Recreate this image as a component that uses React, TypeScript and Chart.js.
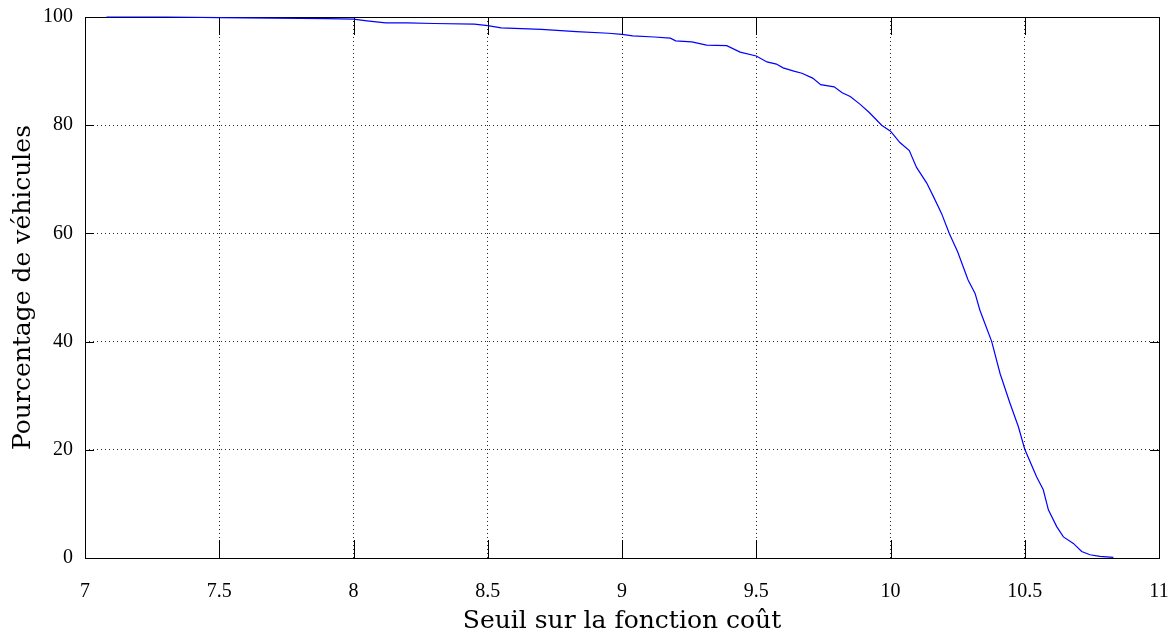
import React, { useEffect, useRef } from "react";
import { Chart, registerables } from "chart.js";

Chart.register(...registerables);

const thresholds: number[] = [
  7.08, 7.3, 7.5, 7.7, 7.9, 8.0, 8.05, 8.12, 8.2, 8.3, 8.45, 8.5, 8.55, 8.6, 8.7, 8.83, 8.95, 9.0,
  9.04, 9.12, 9.18, 9.2, 9.26, 9.315, 9.39, 9.44, 9.5, 9.54, 9.575, 9.6, 9.64, 9.67, 9.71, 9.74,
  9.79, 9.82, 9.85, 9.886, 9.92, 9.967, 10.0, 10.035, 10.07, 10.097, 10.135, 10.16, 10.19, 10.219,
  10.25, 10.289, 10.315, 10.333, 10.377, 10.408, 10.445, 10.476, 10.5, 10.544, 10.569, 10.588,
  10.619, 10.644, 10.681, 10.712, 10.743, 10.78, 10.83,
];

const percentages: number[] = [
  100, 100, 99.9, 99.8, 99.7, 99.6, 99.3, 98.9, 98.9, 98.8, 98.7, 98.4, 98.0, 97.9, 97.7, 97.3, 97.0,
  96.8, 96.5, 96.3, 96.1, 95.6, 95.4, 94.8, 94.7, 93.5, 92.8, 91.7, 91.3, 90.6, 90.0, 89.6, 88.7,
  87.5, 87.1, 86.0, 85.3, 83.9, 82.4, 80.0, 78.9, 76.8, 75.3, 72.2, 69.3, 66.8, 63.7, 60.0, 56.6,
  51.4, 48.9, 45.8, 40.0, 34.1, 28.6, 24.3, 20.1, 15.0, 12.6, 8.9, 5.8, 3.9, 2.7, 1.2, 0.6, 0.3, 0.1,
];

const xTicks: number[] = [7, 7.5, 8, 8.5, 9, 9.5, 10, 10.5, 11];
const yTicks: number[] = [0, 20, 40, 60, 80, 100];

const xTitle = "Seuil sur la fonction coût";
const yTitle = "Pourcentage de véhicules";

const innerTicks = {
  id: "innerTicks",
  beforeDatasetsDraw(chart: any) {
    const { ctx, chartArea } = chart;
    const xs = chart.scales.x;
    const ys = chart.scales.y;
    ctx.save();
    ctx.strokeStyle = "#000";
    ctx.lineWidth = 1;
    ctx.beginPath();
    xTicks.forEach((v) => {
      const px = Math.round(xs.getPixelForValue(v)) + 0.5;
      ctx.moveTo(px, chartArea.bottom);
      ctx.lineTo(px, chartArea.bottom - 18);
      ctx.moveTo(px, chartArea.top);
      ctx.lineTo(px, chartArea.top + 18);
    });
    yTicks.forEach((v) => {
      const py = Math.round(ys.getPixelForValue(v)) + 0.5;
      ctx.moveTo(chartArea.left, py);
      ctx.lineTo(chartArea.left + 9, py);
      ctx.moveTo(chartArea.right, py);
      ctx.lineTo(chartArea.right - 9, py);
    });
    ctx.stroke();
    ctx.strokeRect(
      Math.round(chartArea.left) + 0.5,
      Math.round(chartArea.top) + 0.5,
      Math.round(chartArea.right - chartArea.left),
      Math.round(chartArea.bottom - chartArea.top)
    );
    ctx.restore();
  },
};

export default function App() {
  const ref = useRef<HTMLCanvasElement | null>(null);

  useEffect(() => {
    document.body.style.margin = "0";
    if (!ref.current) return;
    const points = thresholds.map((x, i) => ({ x, y: percentages[i] }));
    const chart = new Chart(ref.current, {
      type: "line",
      data: {
        datasets: [
          {
            data: points,
            borderColor: "#0000ff",
            borderWidth: 1.2,
            pointRadius: 0,
            tension: 0,
            fill: false,
            clip: 2,
          },
        ],
      },
      options: {
        animation: false,
        responsive: false,
        devicePixelRatio: 1,
        layout: { padding: { top: 17, right: 17, left: 0, bottom: 0 } },
        plugins: { legend: { display: false }, tooltip: { enabled: false } },
        scales: {
          x: {
            type: "linear",
            min: 7,
            max: 11,
            afterFit: (s: any) => {
              s.height = 85;
              s.paddingLeft = 0;
              s.paddingRight = 0;
            },
            afterBuildTicks: (s: any) => {
              s.ticks = xTicks.map((v) => ({ value: v }));
            },
            border: { display: false },
            grid: {
              color: "rgba(0,0,0,0.85)",
              drawTicks: false,
            },
            ticks: {
              padding: 22,
              color: "#000",
              maxRotation: 0,
              font: { family: "Liberation Serif", size: 20 },
              callback: (v: any) => String(v),
            },
            title: {
              display: true,
              text: xTitle,
              color: "#000",
              font: { family: "DejaVu Serif", size: 25 },
              padding: { top: 0, bottom: 7 },
            },
          },
          y: {
            min: 0,
            max: 100,
            afterFit: (s: any) => {
              s.width = 85;
              s.paddingTop = 0;
              s.paddingBottom = 0;
            },
            afterBuildTicks: (s: any) => {
              s.ticks = yTicks.map((v) => ({ value: v }));
            },
            border: { display: false },
            grid: {
              color: "rgba(0,0,0,0.85)",
              drawTicks: false,
            },
            ticks: {
              padding: 12,
              color: "#000",
              font: { family: "Liberation Serif", size: 20 },
            },
            title: {
              display: true,
              text: yTitle,
              color: "#000",
              font: { family: "DejaVu Serif", size: 25 },
              padding: { top: 8, bottom: 0 },
            },
          },
        },
      },
      plugins: [innerTicks],
    } as any);
    (chart.options.scales as any).x.border.dash = [1, 3];
    (chart.options.scales as any).y.border.dash = [1, 3];
    chart.update();
    return () => chart.destroy();
  }, []);

  return (
    <div style={{ width: 1176, height: 643 }}>
      <canvas ref={ref} width={1176} height={643} />
    </div>
  );
}
